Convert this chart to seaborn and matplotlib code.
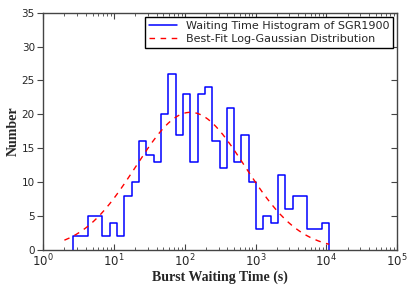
import numpy as np
import pandas as pd
import matplotlib
matplotlib.use("Agg")
import matplotlib.pyplot as plt
import seaborn as sns
from matplotlib.lines import Line2D

# ---- data ----
counts = [2, 2, 5, 5, 2, 4, 2, 8, 10, 16, 14, 13, 20, 26, 17, 23, 13, 23, 24,
          16, 12, 21, 13, 17, 10, 3, 5, 4, 11, 6, 8, 8, 3, 3, 4]
log_edge_lo = 0.425   # log10 of first bin edge (s)
log_edge_hi = 4.04    # log10 of last bin edge (s)

fit_amplitude = 20.3
fit_log_mean = 2.08
fit_log_sigma = 0.77
fit_log_lo = 0.30
fit_log_hi = 4.04

x_ticks = [1, 10, 100, 1000, 10000, 100000]
x_tick_labels = [r"$10^{0}$", r"$10^{1}$", r"$10^{2}$", r"$10^{3}$", r"$10^{4}$", r"$10^{5}$"]
y_ticks = [0, 5, 10, 15, 20, 25, 30, 35]

hist_label = "Waiting Time Histogram of SGR1900"
fit_label = "Best-Fit Log-Gaussian Distribution"

# ---- build ----
sns.set_style("white")
plt.rcParams["font.family"] = ["DejaVu Sans"]

log_edges = np.linspace(log_edge_lo, log_edge_hi, len(counts) + 1)
centers = 10 ** ((log_edges[:-1] + log_edges[1:]) / 2)
df = pd.DataFrame({"t": centers, "n": counts})

lx = np.linspace(fit_log_lo, fit_log_hi, 300)
fit_df = pd.DataFrame({
    "t": 10 ** lx,
    "n": fit_amplitude * np.exp(-(lx - fit_log_mean) ** 2 / (2 * fit_log_sigma ** 2)),
})

fig = plt.figure(figsize=(4.15, 2.91), dpi=100)
ax = fig.add_axes([0.104, 0.142, 0.853, 0.814])

sns.histplot(data=df, x="t", weights="n", bins=len(counts),
             binrange=(log_edge_lo, log_edge_hi), log_scale=True,
             element="step", fill=False, color="blue", linewidth=1.1, ax=ax)
# close the step outline down to zero at both ends (like histtype='step')
step_line = ax.lines[-1] if ax.lines else None
if step_line is not None:
    xd, yd = step_line.get_data()
    xd = np.concatenate([[xd[0]], xd, [xd[-1]]])
    yd = np.concatenate([[0], yd, [0]])
    step_line.set_data(xd, yd)
else:
    for coll in ax.collections:
        for p in coll.get_paths():
            pass

sns.lineplot(data=fit_df, x="t", y="n", color="red", linewidth=1.0,
             linestyle=(0, (4, 4)), ax=ax)

ax.set_xlim(1, 1e5)
ax.set_ylim(0, 35)
ax.set_xticks(x_ticks)
ax.set_xticklabels(x_tick_labels, fontsize=8.5)
ax.set_yticks(y_ticks)
ax.set_yticklabels([str(v) for v in y_ticks], fontsize=7.5)

ax.set_xlabel("Burst Waiting Time (s)", family="Liberation Serif",
              fontweight="bold", fontsize=10, labelpad=1)
ax.set_ylabel("Number", family="Liberation Serif", fontweight="bold",
              fontsize=10)
ax.yaxis.set_label_coords(-0.066, 0.5)

for s in ax.spines.values():
    s.set_color("#444444")
    s.set_linewidth(1.0)

ax.tick_params(axis="x", which="both", direction="in", top=True, bottom=True,
               color="#444444", pad=2)
ax.tick_params(axis="x", which="major", length=4)
ax.tick_params(axis="x", which="minor", length=2)
ax.tick_params(axis="y", which="major", direction="out", left=True, length=4,
               color="#444444", pad=2)
ax.tick_params(axis="y", which="major", right=True)
for t in ax.yaxis.get_major_ticks():
    t.tick2line.set_marker(0)  # inward on the right side

handles = [Line2D([], [], color="blue", linewidth=1.1),
           Line2D([], [], color="red", linewidth=1.0, linestyle=(0, (4, 4)))]
leg = ax.legend(handles, [hist_label, fit_label], loc="upper right",
                fontsize=8, frameon=True, fancybox=False, framealpha=1,
                borderaxespad=0.35, handlelength=2.5, borderpad=0.35,
                labelspacing=0.3)
leg.get_frame().set_edgecolor("black")
leg.get_frame().set_linewidth(1.0)

fig.savefig("out.png", dpi=100)
